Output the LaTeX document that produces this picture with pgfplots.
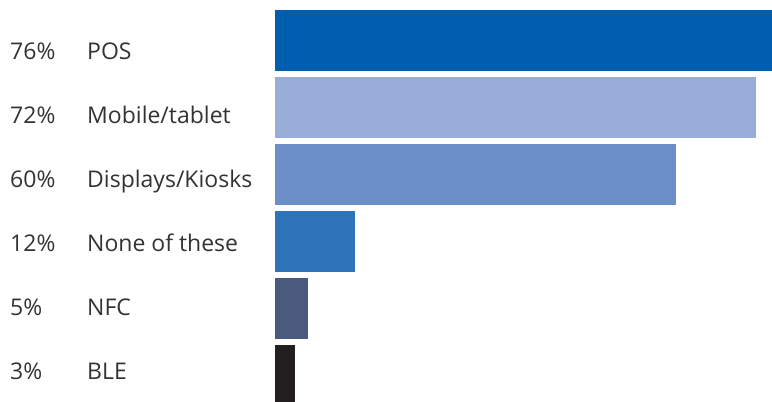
\documentclass[border=0pt]{standalone}
\usepackage{pgfplots}
\pgfplotsset{compat=1.18}
\usepackage{fontspec}
\setmainfont{Open Sans}
\definecolor{cPOS}{HTML}{005EB0}
\definecolor{cMob}{HTML}{98AED8}
\definecolor{cDis}{HTML}{6C8FC8}
\definecolor{cNone}{HTML}{2E74BB}
\definecolor{cNFC}{HTML}{4A5A7E}
\definecolor{cBLE}{HTML}{231F20}
\definecolor{txt}{HTML}{333333}
\begin{document}
\begin{tikzpicture}
\useasboundingbox (-275bp,0) rectangle (497bp,402bp);
\begin{axis}[
  at={(0,0)}, anchor=south west,
  scale only axis, width=497bp, height=402bp,
  xbar, bar width=61bp, bar shift=0pt,
  xmin=0, xmax=74.4,
  ymin=-0.6045, ymax=5.3955, y dir=reverse,
  axis lines=none, ticks=none,
  clip=true,
]
\addplot[fill=cPOS, draw=none] coordinates {(76,0)};
\addplot[fill=cMob, draw=none] coordinates {(72,1)};
\addplot[fill=cDis, draw=none] coordinates {(60,2)};
\addplot[fill=cNone, draw=none] coordinates {(12,3)};
\addplot[fill=cNFC, draw=none] coordinates {(5,4)};
\addplot[fill=cBLE, draw=none] coordinates {(3,5)};
\end{axis}
\fontsize{23bp}{28bp}\selectfont
\foreach \p/\l [count=\i from 0] in {76\%/POS,72\%/Mobile\slash tablet,60\%/Displays\slash Kiosks,12\%/None of these,5\%/NFC,3\%/BLE}{
  \node[anchor=base west, inner sep=0pt, text=txt] at (-265bp,{402bp-(59.5bp+64bp*\i)}) {\p};
  \node[anchor=base west, inner sep=0pt, text=txt] at (-188bp,{402bp-(59.5bp+64bp*\i)}) {\l};
}
\end{tikzpicture}
\end{document}
